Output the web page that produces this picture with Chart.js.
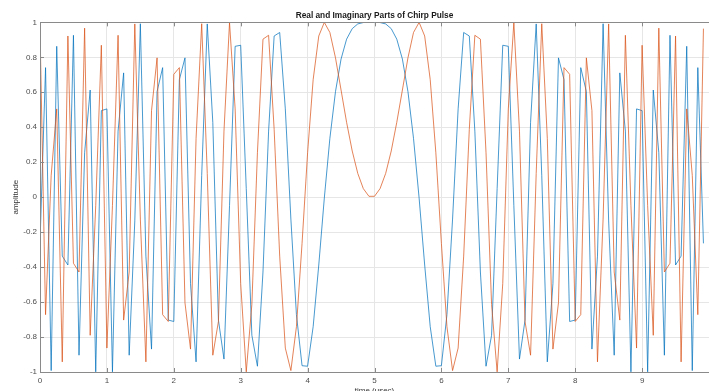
<!DOCTYPE html>
<html>
<head>
<meta charset="utf-8">
<title>Real and Imaginary Parts of Chirp Pulse</title>
<script src="https://cdn.jsdelivr.net/npm/chart.js@4.4.1/dist/chart.umd.min.js"></script>
<style>
  html, body { margin: 0; padding: 0; background: #ffffff; overflow: hidden; }
  canvas { display: block; }
</style>
</head>
<body>
<canvas id="chirp" width="709" height="391"></canvas>
<script>
// Sample times (usec), 12 samples per microsecond
const time = [
  0, 0.083, 0.167, 0.25, 0.333, 0.417, 0.5, 0.583, 0.667, 0.75, 0.833, 0.917,
  1, 1.083, 1.167, 1.25, 1.333, 1.417, 1.5, 1.583, 1.667, 1.75, 1.833, 1.917,
  2, 2.083, 2.167, 2.25, 2.333, 2.417, 2.5, 2.583, 2.667, 2.75, 2.833, 2.917,
  3, 3.083, 3.167, 3.25, 3.333, 3.417, 3.5, 3.583, 3.667, 3.75, 3.833, 3.917,
  4, 4.083, 4.167, 4.25, 4.333, 4.417, 4.5, 4.583, 4.667, 4.75, 4.833, 4.917,
  5, 5.083, 5.167, 5.25, 5.333, 5.417, 5.5, 5.583, 5.667, 5.75, 5.833, 5.917,
  6, 6.083, 6.167, 6.25, 6.333, 6.417, 6.5, 6.583, 6.667, 6.75, 6.833, 6.917,
  7, 7.083, 7.167, 7.25, 7.333, 7.417, 7.5, 7.583, 7.667, 7.75, 7.833, 7.917,
  8, 8.083, 8.167, 8.25, 8.333, 8.417, 8.5, 8.583, 8.667, 8.75, 8.833, 8.917,
  9, 9.083, 9.167, 9.25, 9.333, 9.417, 9.5, 9.583, 9.667, 9.75, 9.833, 9.917
];

// Real part of the pulse
const realPart = [
  -0.264, 0.741, -0.992, 0.863, -0.337, -0.388, 0.926, -0.904, 0.254, 0.613,
  -0.999, 0.495, 0.505, -0.999, 0.378, 0.711, -0.904, -0.136, 0.992, -0.337,
  -0.869, 0.604, 0.741, -0.703, -0.711, 0.672, 0.797, -0.495, -0.942, 0.125,
  0.991, 0.428, -0.703, -0.926, -0.049, 0.863, 0.869, 0.049, -0.790, -0.967,
  -0.428, 0.378, 0.922, 0.942, 0.505, -0.125, -0.672, -0.964, -0.967, -0.741,
  -0.388, -0.005, 0.337, 0.604, 0.790, 0.904, 0.964, 0.991, 0.999, 1.000,
  1.000, 0.999, 0.991, 0.964, 0.904, 0.790, 0.604, 0.337, -0.005, -0.388,
  -0.741, -0.967, -0.964, -0.672, -0.125, 0.505, 0.942, 0.922, 0.378, -0.428,
  -0.967, -0.790, 0.049, 0.869, 0.863, -0.049, -0.926, -0.703, 0.428, 0.991,
  0.125, -0.942, -0.495, 0.797, 0.672, -0.711, -0.703, 0.741, 0.604, -0.869,
  -0.337, 0.992, -0.136, -0.904, 0.711, 0.378, -0.999, 0.505, 0.495, -0.999,
  0.613, 0.254, -0.904, 0.926, -0.388, -0.337, 0.863, -0.992, 0.741, -0.264
];

// Imaginary part of the pulse
const imagPart = [
  0.964, -0.672, 0.125, 0.505, -0.942, 0.922, -0.378, -0.428, 0.967, -0.790,
  -0.049, 0.869, -0.863, -0.049, 0.926, -0.703, -0.428, 0.991, -0.125, -0.942,
  0.495, 0.797, -0.672, -0.711, 0.703, 0.741, -0.604, -0.869, 0.337, 0.992,
  0.136, -0.904, -0.711, 0.378, 0.999, 0.505, -0.495, -0.999, -0.613, 0.254,
  0.904, 0.926, 0.388, -0.337, -0.863, -0.992, -0.741, -0.264, 0.254, 0.672,
  0.922, 1.000, 0.942, 0.797, 0.613, 0.428, 0.264, 0.136, 0.049, 0.005,
  0.005, 0.049, 0.136, 0.264, 0.428, 0.613, 0.797, 0.942, 1.000, 0.922,
  0.672, 0.254, -0.264, -0.741, -0.992, -0.863, -0.337, 0.388, 0.926, 0.904,
  0.254, -0.613, -0.999, -0.495, 0.505, 0.999, 0.378, -0.711, -0.904, 0.136,
  0.992, 0.337, -0.869, -0.604, 0.741, 0.703, -0.711, -0.672, 0.797, 0.495,
  -0.942, -0.125, 0.991, -0.428, -0.703, 0.926, -0.049, -0.863, 0.869, -0.049,
  -0.790, 0.967, -0.428, -0.378, 0.922, -0.942, 0.505, 0.125, -0.672, 0.964
];

const xTicks = [0, 1, 2, 3, 4, 5, 6, 7, 8, 9];
const yTicks = [-1, -0.8, -0.6, -0.4, -0.2, 0, 0.2, 0.4, 0.6, 0.8, 1];

const FONT = 'Liberation Sans, Arial, Helvetica, sans-serif';
const AXIS_COLOR = '#8a8a8a';

// Top edge of the axes box plus short inward tick marks
const axesFrame = {
  id: 'axesFrame',
  afterDraw(chart) {
    const { ctx, chartArea: a, scales: { x, y } } = chart;
    ctx.save();
    ctx.strokeStyle = AXIS_COLOR;
    ctx.lineWidth = 1;
    ctx.beginPath();
    ctx.moveTo(a.left, Math.round(a.top) + 0.5);
    ctx.lineTo(a.right, Math.round(a.top) + 0.5);
    x.ticks.forEach(t => {
      const px = Math.round(x.getPixelForValue(t.value)) + 0.5;
      ctx.moveTo(px, a.bottom);
      ctx.lineTo(px, a.bottom - 4);
      ctx.moveTo(px, a.top);
      ctx.lineTo(px, a.top + 4);
    });
    y.ticks.forEach(t => {
      const py = Math.round(y.getPixelForValue(t.value)) + 0.5;
      ctx.moveTo(a.left, py);
      ctx.lineTo(a.left + 4, py);
    });
    ctx.stroke();
    ctx.restore();
  }
};

const toPoints = values => time.map((t, i) => ({ x: t, y: values[i] }));

new Chart(document.getElementById('chirp'), {
  type: 'line',
  data: {
    datasets: [
      {
        label: 'Real',
        data: toPoints(realPart),
        borderColor: 'rgba(0, 114, 189, 0.72)',
        borderWidth: 1,
        pointRadius: 0,
        tension: 0,
        fill: false,
        order: 2
      },
      {
        label: 'Imaginary',
        data: toPoints(imagPart),
        borderColor: 'rgba(217, 83, 25, 0.72)',
        borderWidth: 1,
        pointRadius: 0,
        tension: 0,
        fill: false,
        order: 1
      }
    ]
  },
  options: {
    responsive: false,
    animation: false,
    devicePixelRatio: 1,
    layout: { padding: { left: 0, right: -5.5, top: 0, bottom: 0 } },
    plugins: {
      legend: { display: false },
      tooltip: { enabled: false },
      title: {
        display: true,
        text: 'Real and Imaginary Parts of Chirp Pulse',
        fullSize: false,
        color: '#1a1a1a',
        font: { family: FONT, size: 8.3, weight: 'bold' },
        padding: { top: 11, bottom: 1.4 }
      }
    },
    scales: {
      x: {
        type: 'linear',
        min: 0,
        max: 10,
        afterBuildTicks: s => { s.ticks = xTicks.map(v => ({ value: v })); },
        afterFit: s => { s.height = 19; },
        grid: { color: '#e6e6e6', drawTicks: false },
        border: { color: AXIS_COLOR, z: 1 },
        ticks: {
          padding: 4,
          color: '#4d4d4d',
          autoSkip: false,
          maxRotation: 0,
          callback: v => String(v),
          font: { family: FONT, size: 8 }
        },
        title: {
          display: true,
          text: 'time (usec)',
          color: '#333333',
          font: { family: FONT, size: 8 },
          padding: { top: 0, bottom: -4.3 }
        }
      },
      y: {
        type: 'linear',
        min: -1,
        max: 1,
        afterBuildTicks: s => { s.ticks = yTicks.map(v => ({ value: v })); },
        afterFit: s => { s.width = 40; },
        grid: { color: '#e6e6e6', drawTicks: false },
        border: { color: AXIS_COLOR, z: 1 },
        ticks: {
          padding: 3,
          color: '#4d4d4d',
          autoSkip: false,
          callback: v => String(v),
          font: { family: FONT, size: 8 }
        },
        title: {
          display: true,
          text: 'amplitude',
          color: '#333333',
          font: { family: FONT, size: 8 },
          padding: { top: 11, bottom: 0 }
        }
      }
    }
  },
  plugins: [axesFrame]
});
</script>
</body>
</html>
